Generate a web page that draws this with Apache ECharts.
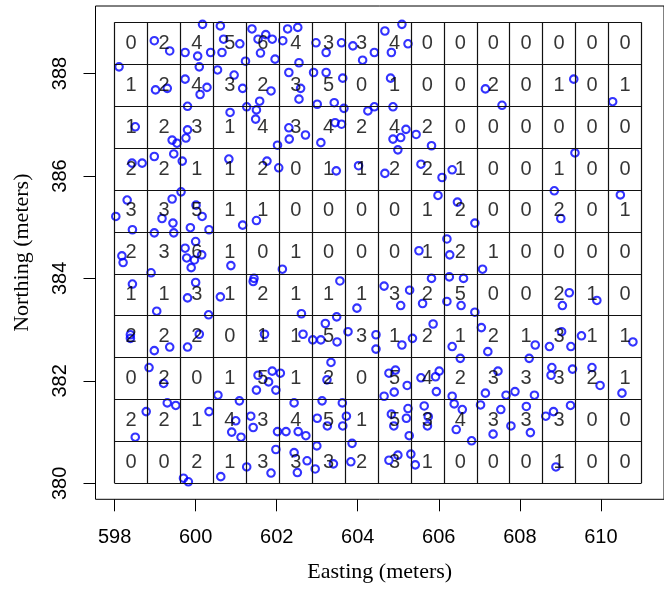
<!DOCTYPE html>
<html>
<head>
<meta charset="utf-8">
<script src="https://cdn.jsdelivr.net/npm/echarts@6/dist/echarts.min.js"></script>
<style>
  html, body { margin: 0; padding: 0; background: #fff; }
  #chart { width: 664px; height: 589px; }
</style>
</head>
<body>
<div id="chart"></div>
<script>
// quadrat breaks (16 x 11 tiles)
const xBreaks = [598, 598.8125, 599.625, 600.4375, 601.25, 602.0625, 602.875, 603.6875, 604.5,
  605.3125, 606.125, 606.9375, 607.75, 608.5625, 609.375, 610.1875, 611];
const yBreaks = [380, 380.818, 381.636, 382.455, 383.273, 384.091, 384.909, 385.727, 386.545,
  387.364, 388.182, 389];

// counts per tile, top row first
const counts = [
  [0, 2, 4, 5, 6, 4, 3, 3, 4, 0, 0, 0, 0, 0, 0, 0],
  [1, 2, 4, 3, 2, 3, 5, 0, 1, 0, 0, 2, 0, 1, 0, 1],
  [1, 2, 3, 1, 4, 3, 4, 2, 4, 2, 0, 0, 0, 0, 0, 0],
  [2, 2, 1, 1, 2, 0, 1, 1, 2, 2, 1, 0, 0, 1, 0, 0],
  [3, 3, 5, 1, 1, 0, 0, 0, 0, 1, 2, 0, 0, 2, 0, 1],
  [2, 3, 6, 1, 0, 1, 0, 0, 0, 1, 2, 1, 0, 0, 0, 0],
  [1, 1, 3, 1, 2, 1, 1, 1, 3, 2, 5, 0, 0, 2, 1, 0],
  [2, 2, 2, 0, 1, 1, 5, 3, 1, 2, 1, 2, 1, 3, 1, 1],
  [0, 2, 0, 1, 5, 1, 2, 0, 5, 4, 2, 3, 3, 3, 2, 1],
  [2, 2, 1, 4, 3, 4, 5, 1, 5, 3, 4, 3, 3, 3, 0, 0],
  [0, 0, 2, 1, 3, 3, 3, 2, 3, 1, 0, 0, 0, 1, 0, 0]
];

const xTicks = [598, 600, 602, 604, 606, 608, 610];
const yTicks = [380, 382, 384, 386, 388];

// point locations
const eastings = [
  598.98, 599.36, 599.74, 600.05, 600.37, 600.17, 600.61, 600.65, 600.69, 601.09, 601.23, 601.39, 601.54, 601.73, 601.89, 601.60,
  601.96, 602.27, 602.52, 602.15, 602.55, 602.97, 603.22, 603.60, 603.88, 604.12, 604.41, 604.67, 605.09, 605.24, 604.83,
  598.11, 599.01, 599.30, 599.74, 600.09, 600.11, 600.28, 600.54, 600.95, 601.16, 601.58, 601.86, 602.30, 602.59, 602.55,
  602.91, 603.22, 603.63, 603.00, 603.42, 604.81, 607.15, 607.56, 609.33, 610.29,
  598.51, 599.42, 599.54, 599.80, 599.80, 599.76, 600.85, 601.26, 601.50, 601.48, 602.02, 602.30, 602.31, 602.71, 603.09,
  603.44, 603.60, 603.66, 604.25, 604.41, 604.87, 605.19, 604.87, 605.06, 605.44, 605.82,
  598.43, 598.68, 598.98, 599.46, 599.67, 600.82, 601.76, 602.05, 603.47, 604.02, 604.67, 604.99, 605.56, 606.08, 606.33, 609.36,
  598.31, 598.03, 598.44, 599.42, 599.17, 599.44, 599.64, 600.01, 600.16, 599.87, 600.33, 601.16, 601.50, 605.98, 606.46,
  606.89, 608.85, 609.01, 610.48,
  598.18, 598.21, 598.90, 598.98, 599.46, 599.74, 600.00, 599.78, 599.97, 600.15, 599.89, 600.87, 602.14, 605.51, 606.20,
  606.27, 607.08,
  598.44, 599.04, 600.00, 599.80, 600.32, 600.61, 601.44, 601.42, 602.61, 603.56, 603.98, 604.65, 605.06, 605.28, 605.82,
  605.60, 606.26, 606.61, 606.20, 606.55, 606.89, 609.22, 609.05, 609.90,
  598.39, 598.39, 598.98, 599.36, 599.80, 600.09, 601.70, 602.65, 602.89, 603.09, 603.49, 603.20, 603.48, 603.76, 604.45,
  604.45, 605.09, 605.35, 605.86, 606.33, 607.05, 607.21, 608.38, 608.73, 609.03, 609.26, 609.52, 610.79,
  598.85, 599.21, 600.55, 601.54, 601.89, 601.80, 601.50, 601.98, 602.09, 603.34, 603.24, 604.77, 604.93, 605.22, 604.90,
  604.65, 605.56, 605.92, 606.01, 605.94, 606.53, 606.33, 607.46, 607.15, 607.66, 608.23, 607.88, 608.36, 608.79, 608.77,
  609.30, 609.78, 609.98, 610.52,
  598.78, 598.51, 599.30, 599.51, 600.33, 601.08, 600.99, 600.89, 601.12, 601.36, 601.42, 602.02, 602.43, 602.23, 602.53,
  602.72, 603.12, 603.00, 603.25, 603.62, 603.63, 603.72, 604.83, 605.24, 605.20, 604.89, 605.27, 605.64, 605.74, 605.72,
  606.38, 606.58, 606.43, 606.81, 607.03, 607.53, 607.34, 607.78, 608.16, 608.26, 608.64, 608.83, 609.25,
  599.70, 599.82, 600.62, 601.26, 601.86, 601.98, 602.43, 602.51, 602.75, 602.95, 602.99, 603.40, 603.86, 603.83, 604.77,
  604.99, 605.31, 605.42, 608.89
];
const northings = [
  388.64, 388.44, 388.41, 388.34, 388.41, 388.96, 388.93, 388.41, 388.67, 388.58, 388.24, 388.87, 388.67, 388.76, 388.67, 388.40,
  388.28, 388.87, 388.90, 388.64, 388.21, 388.60, 388.41, 388.60, 388.54, 388.26, 388.41, 388.83, 388.96, 388.58, 388.41,
  388.13, 387.68, 387.71, 387.89, 388.13, 387.59, 387.73, 388.07, 387.97, 387.71, 387.46, 387.66, 388.02, 387.71, 387.50,
  388.02, 388.02, 387.91, 387.40, 387.43, 387.91, 387.70, 387.38, 387.89, 387.45,
  386.96, 386.70, 386.64, 387.36, 386.90, 386.74, 387.24, 387.35, 387.29, 387.11, 386.60, 386.94, 386.72, 386.80, 386.65,
  387.04, 387.01, 387.32, 387.27, 387.35, 387.35, 386.91, 386.72, 386.75, 386.81, 386.59,
  386.25, 386.25, 386.38, 386.43, 386.29, 386.33, 386.29, 386.16, 386.10, 386.20, 386.05, 386.51, 386.23, 385.97, 386.12, 386.45,
  385.53, 385.21, 384.95, 385.55, 385.17, 385.08, 385.69, 385.43, 385.21, 384.99, 384.95, 385.04, 385.13, 385.62, 385.49,
  385.08, 385.71, 385.17, 385.63,
  384.44, 384.31, 384.11, 384.89, 384.89, 384.59, 384.72, 384.40, 384.36, 384.46, 384.21, 384.25, 384.18, 384.54, 384.77,
  384.46, 384.18,
  383.89, 383.36, 383.92, 383.62, 383.29, 383.64, 384.00, 383.94, 383.31, 383.95, 383.42, 383.85, 383.47, 383.77, 384.00,
  383.51, 384.03, 384.00, 383.55, 383.47, 383.34, 383.72, 383.47, 383.57,
  382.90, 382.83, 382.59, 382.66, 382.66, 382.91, 382.91, 382.91, 382.80, 382.80, 382.76, 383.12, 383.25, 382.96, 382.90,
  382.62, 382.70, 382.83, 383.11, 382.67, 383.04, 382.57, 382.70, 382.67, 382.96, 382.67, 382.88, 382.76,
  382.26, 381.95, 381.72, 382.11, 382.19, 381.98, 381.82, 381.82, 382.15, 382.36, 382.02, 382.15, 382.21, 381.91, 381.78,
  381.70, 382.06, 382.08, 382.19, 381.79, 382.44, 381.70, 382.19, 381.76, 381.72, 382.44, 381.79, 381.72, 382.26, 382.11,
  382.23, 382.26, 381.91, 381.76,
  381.40, 380.90, 381.57, 381.52, 381.40, 381.61, 381.22, 381.00, 380.90, 381.31, 381.09, 381.01, 381.57, 381.01, 381.01,
  380.93, 381.61, 381.27, 381.12, 381.57, 381.12, 381.31, 381.35, 381.46, 381.27, 381.12, 380.93, 381.51, 381.30, 381.12,
  381.55, 381.44, 381.05, 380.83, 381.53, 381.44, 380.96, 381.12, 381.50, 380.99, 381.31, 381.40, 381.52,
  380.10, 380.03, 380.13, 380.32, 380.20, 380.66, 380.60, 380.21, 380.44, 380.28, 380.73, 380.38, 380.78, 380.42, 380.45,
  380.55, 380.57, 380.36, 380.32
];

const points = eastings.map((e, i) => [e, northings[i]]);

// tile borders
const gridLines = [];
xBreaks.forEach(x => gridLines.push({ coords: [[x, yBreaks[0]], [x, yBreaks[yBreaks.length - 1]]] }));
yBreaks.forEach(y => gridLines.push({ coords: [[xBreaks[0], y], [xBreaks[xBreaks.length - 1], y]] }));

// count labels at tile centres
const countLabels = [];
counts.forEach((row, r) => {
  const j = yBreaks.length - 1 - r;
  const yc = (yBreaks[j] + yBreaks[j - 1]) / 2;
  row.forEach((n, c) => {
    countLabels.push([(xBreaks[c] + xBreaks[c + 1]) / 2, yc, n]);
  });
});

const chart = echarts.init(document.getElementById("chart"));
const option = {
  animation: false,
  backgroundColor: "#fff",
  grid: {
    left: 95.5,
    top: 6,
    width: 590,
    height: 493.3,
    show: true,
    borderColor: "#000",
    borderWidth: 1,
    backgroundColor: "transparent"
  },
  xAxis: {
    type: "value",
    min: 597.529,
    max: 611.557,
    axisLine: { show: false },
    splitLine: { show: false },
    axisTick: {
      show: true,
      length: 12,
      customValues: xTicks,
      lineStyle: { color: "#000", width: 1 }
    },
    axisLabel: {
      customValues: xTicks,
      fontSize: 20,
      fontFamily: "Liberation Sans",
      color: "#000",
      margin: 28
    },
    name: "Easting (meters)",
    nameLocation: "middle",
    nameGap: 62,
    nameTextStyle: { fontSize: 22, fontFamily: "Liberation Serif", color: "#000" }
  },
  yAxis: {
    type: "value",
    min: 379.688,
    max: 389.318,
    axisLine: { show: false },
    splitLine: { show: false },
    axisTick: {
      show: true,
      length: 12,
      customValues: yTicks,
      lineStyle: { color: "#000", width: 1 }
    },
    axisLabel: {
      customValues: yTicks,
      rotate: 90,
      align: "center",
      verticalAlign: "bottom",
      fontSize: 20,
      fontFamily: "Liberation Sans",
      color: "#000",
      margin: 25
    },
    name: "Northing (meters)",
    nameLocation: "middle",
    nameGap: 62,
    nameTextStyle: { fontSize: 22, fontFamily: "Liberation Serif", color: "#000" }
  },
  series: [
    {
      type: "scatter",
      data: points,
      symbol: "circle",
      symbolSize: 7.5,
      itemStyle: { color: "rgba(0,0,0,0)", borderColor: "#0000ff", borderWidth: 2.1 },
      z: 2,
      silent: true
    },
    {
      type: "lines",
      coordinateSystem: "cartesian2d",
      data: gridLines,
      lineStyle: { color: "#111", width: 1.2, opacity: 1 },
      z: 3,
      silent: true
    },
    {
      type: "scatter",
      data: countLabels,
      symbolSize: 0,
      label: {
        show: true,
        position: "inside",
        formatter: p => String(p.data[2]),
        fontSize: 20,
        fontFamily: "Liberation Sans",
        color: "#000"
      },
      z: 4,
      silent: true
    }
  ]
};
chart.setOption(option);
</script>
</body>
</html>
